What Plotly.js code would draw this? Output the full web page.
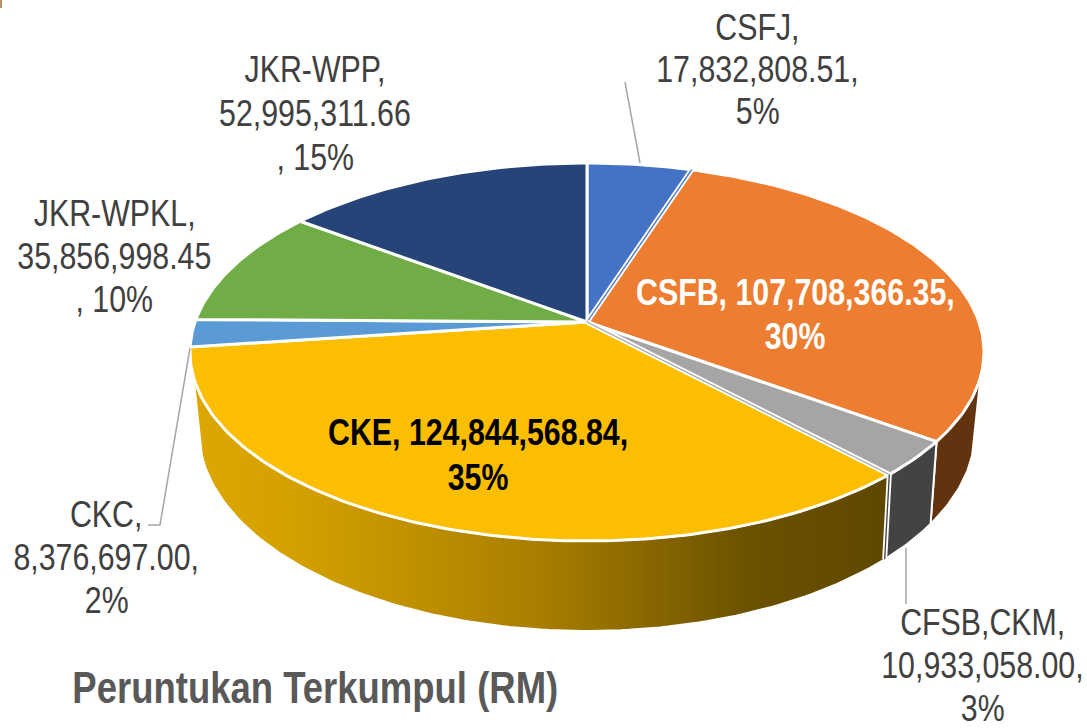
<!DOCTYPE html>
<html><head><meta charset="utf-8">
<script src="https://cdn.plot.ly/plotly-3.0.1.min.js"></script>
<style>html,body{margin:0;padding:0;background:#fff;overflow:hidden}#c{width:1087px;height:728px}</style>
</head><body><div id="c"></div>
<script>
const categories = ["CSFJ","CSFB","CFSB,CKM","CKE","CKC","JKR-WPKL","JKR-WPP"];
const values = [17832808.51,107708366.35,10933058.00,124844568.84,8376697.00,35856998.45,52995311.66];
const topColors = ["#4472C4","#ED7D31","#A5A5A5","#FCBE00","#5B9BD5","#70AD47","#264478"];
const seamColors = ["#4472C4",null,"#A5A5A5",null,null,null,null];
const wallColors = [null,"#61330F","#434343","GOLD",null,null,null];
const goldScale = [[0,"#DDA700"],[0.15,"#D4A000"],[0.5,"#A87E00"],[0.8,"#6B5100"],[1,"#5F4700"]];
const FONT = "'Liberation Sans',Arial,sans-serif";
const NARROW = 0.82;
const labels = [
 {lines:["CSFJ,","17,832,808.51,","5%"], x:757, ys:[27,69,111], color:"#404040", size:37},
 {lines:["JKR-WPP,","52,995,311.66",", 15%"], x:315, ys:[69,113,157], color:"#404040", size:37},
 {lines:["JKR-WPKL,","35,856,998.45",", 10%"], x:114, ys:[213,256,299], color:"#404040", size:37},
 {lines:["CKC,","8,376,697.00,","2%"], x:106, ys:[514,557,600], color:"#404040", size:37},
 {lines:["CFSB,CKM,","10,933,058.00,","3%"], x:982, ys:[622,665,708], color:"#404040", size:37},
 {lines:["CSFB, 107,708,366.35,","30%"], x:795, ys:[292,336], color:"#FFFFFF", size:37, bold:true},
 {lines:["CKE, 124,844,568.84,","35%"], x:478, ys:[432,477], color:"#000000", size:37, bold:true},
 {lines:["Peruntukan Terkumpul (RM)"], x:315, ys:[687], color:"#595959", size:44.5, bold:true}
];
const leaders = [
 {x:[625,640], y:[82,163]},
 {x:[190,160,148], y:[348,525,525]},
 {x:[906,906], y:[548,604]}
];

// projection of the tilted disc: top face and bottom rim
const topFace = {cx:587, cy:322, a:184.2, b:392, k:0.1587};
const botFace = {cx:587, cy:397, a:194.2, b:382.4, k:0.17};
function proj(f, deg){
  const t = deg*Math.PI/180, u = Math.sin(t), v = Math.cos(t), d = 1+f.k*v;
  return [f.cx + f.b*u/d, f.cy - f.a*v/d];
}
const total = values.reduce((s,v)=>s+v,0);
let acc = 0;
const angles = values.map(v=>{const s=acc/total*360; acc+=v; return [s,acc/total*360];});
function arc(f,a0,a1){
  const pts=[], n=Math.max(2,Math.ceil(Math.abs(a1-a0)));
  for(let i=0;i<=n;i++) pts.push(proj(f,a0+(a1-a0)*i/n));
  return pts;
}
const VIS0 = 106.6, VIS1 = 253.4;
const traces = [];
// side walls
angles.forEach((ang,i)=>{
  if(!wallColors[i]) return;
  const a0=Math.max(ang[0],VIS0), a1=Math.min(ang[1],VIS1);
  const pts = arc(topFace,a0,a1).concat(arc(botFace,a1,a0));
  pts.push(pts[0]);
  const tr = {type:"scatter",mode:"lines",x:pts.map(p=>p[0]),y:pts.map(p=>p[1]),fill:"toself",
    line:{color:"#FFFFFF",width:2},hoverinfo:"skip",showlegend:false};
  if(wallColors[i]==="GOLD"){ tr.fillgradient={type:"horizontal",colorscale:goldScale}; }
  else tr.fillcolor=wallColors[i];
  traces.push(tr);
});
// top wedges
angles.forEach((ang,i)=>{
  const pts=[[topFace.cx,topFace.cy]].concat(arc(topFace,ang[0],ang[1]));
  pts.push(pts[0]);
  traces.push({type:"scatter",mode:"lines",x:pts.map(p=>p[0]),y:pts.map(p=>p[1]),fill:"toself",
    fillcolor:topColors[i],line:{color:"#FFFFFF",width:3},hoverinfo:"skip",showlegend:false,name:categories[i]});
});
// hairline seams where a very thin sliver shows between two slices
angles.forEach((ang,i)=>{
  if(!seamColors[i]) return;
  const e=proj(topFace,ang[1]);
  const w=[[topFace.cx,topFace.cy],e];
  traces.push({type:"scatter",mode:"lines",x:w.map(p=>p[0]),y:w.map(p=>p[1]),line:{color:"#FFFFFF",width:5},hoverinfo:"skip",showlegend:false});
  traces.push({type:"scatter",mode:"lines",x:w.map(p=>p[0]),y:w.map(p=>p[1]),line:{color:seamColors[i],width:1.3},hoverinfo:"skip",showlegend:false});
  if(wallColors[i]){
    const b=proj(botFace,ang[1]);
    traces.push({type:"scatter",mode:"lines",x:[e[0],b[0]],y:[e[1],b[1]],line:{color:"#FFFFFF",width:5},hoverinfo:"skip",showlegend:false});
    traces.push({type:"scatter",mode:"lines",x:[e[0],b[0]],y:[e[1],b[1]],line:{color:"#434343",width:1.3},hoverinfo:"skip",showlegend:false});
  }
});
// leader lines
leaders.forEach(l=>traces.push({type:"scatter",mode:"lines",x:l.x,y:l.y,line:{color:"#A6A6A6",width:1.5},hoverinfo:"skip",showlegend:false}));

const annotations=[];
labels.forEach(l=>l.lines.forEach((t,i)=>annotations.push({
  x:l.x,y:l.ys[i],xref:"x",yref:"y",xanchor:"center",yanchor:"middle",showarrow:false,
  text:l.bold?"<b>"+t+"</b>":t,font:{family:FONT,size:l.size,color:l.color}
})));
const layout={
  width:1087,height:728,margin:{l:0,r:0,t:0,b:0},paper_bgcolor:"#fff",plot_bgcolor:"#fff",showlegend:false,
  xaxis:{range:[0,1087],visible:false,fixedrange:true},
  yaxis:{range:[728,0],visible:false,fixedrange:true},
  annotations,
  shapes:[{type:"rect",xref:"x",yref:"y",x0:0,x1:2,y0:0,y1:8,fillcolor:"#B98F68",line:{width:0}}]
};
Plotly.newPlot("c",traces,layout,{displayModeBar:false,staticPlot:true}).then(gd=>{
  // the reference uses a condensed face: squeeze each label horizontally about its centre
  gd.querySelectorAll(".annotation-text").forEach(el=>{
    const bb=el.getBBox(), cx=bb.x+bb.width/2;
    el.setAttribute("transform","translate("+cx+" 0) scale("+NARROW+" 1) translate("+(-cx)+" 0)");
  });
});
</script></body></html>
